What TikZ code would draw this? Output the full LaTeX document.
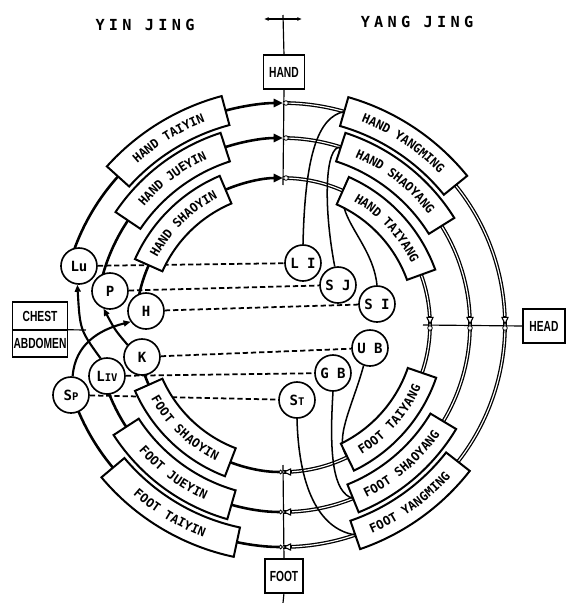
\documentclass[tikz,border=0pt]{standalone}
\usepackage{fontspec}
\setmainfont{Liberation Sans}
\newfontfamily\leroy{DejaVu Sans Mono}
\newfontfamily\spaced[LetterSpace=28]{DejaVu Sans Mono}
\newfontfamily\narrow[FakeStretch=0.7]{Liberation Sans}
\usetikzlibrary{arrows.meta,decorations.text,positioning,backgrounds}

\newcommand{\sml}[1]{{\fontsize{9}{9}\selectfont #1}}
% curved meridian box: radius, text start angle, text end angle, label
\newcommand{\meridian}[4]{%
  \pgfmathsetmacro\rin{#1-15}\pgfmathsetmacro\rout{#1+15}%
  \draw[merbox] (#2:\rin) arc[start angle=#2, end angle=#3, radius=\rin]
    -- (#3:\rout) arc[start angle=#3, end angle=#2, radius=\rout] -- cycle;
  \path[decorate, decoration={text along path, text align=center, raise=-3.8pt,
      text={|\leroy\bfseries\fontsize{10.5}{12}\selectfont|#4}}]
    (#2:#1) arc[start angle=#2, end angle=#3, radius=#1];
}

\begin{document}
\begin{tikzpicture}[x=0.03cm, y=0.03cm,
  yin/.style={line width=2.2pt},
  yang/.style={double, line width=1.1pt, double distance=1pt},
  branch/.style={line width=1.3pt},
  cross/.style={line width=1.8pt, -{Triangle[length=6pt,width=5pt]}},
  link/.style={line width=1.5pt, dash pattern=on 4.5pt off 2.5pt},
  axis/.style={line width=1pt},
  hollow/.style={line width=0.9pt, -{Triangle[fill=white,length=7pt,width=6.5pt]}},
  junc/.style={line width=0.7pt, fill=white},
  merbox/.style={draw, line width=1.7pt, fill=white},
  organ/.style={circle, draw, line width=1.4pt, fill=white, minimum size=1.08cm,
                inner sep=0pt, font=\leroy\bfseries\fontsize{12}{12}\selectfont},
  part/.style={rectangle, draw, line width=1.3pt, fill=white, minimum height=1.02cm,
               inner sep=0pt, outer sep=0pt, font=\narrow\bfseries\fontsize{12.5}{12.5}\selectfont},
  title/.style={font=\spaced\bfseries\fontsize{13}{13}\selectfont}
]
\useasboundingbox (-283,-278) rectangle (285,325);

% ---- titles ----
\node[title] (yin) at (-138,300) {YIN JING};
\node[title] (yang) at (134,303) {YANG JING};

% ---- body parts ----
\node[part, minimum width=1.23cm] (hand) at (1,253) {HAND};
\node[part, minimum width=1.26cm] (head) at (261,-1) {HEAD};
\node[part, minimum width=1.14cm] (foot) at (1,-251) {FOOT};
\node[part, minimum width=1.65cm, minimum height=0.825cm] (chest) at (-243,9) {CHEST};
\node[part, minimum width=1.65cm, minimum height=0.825cm, below=0pt of chest] (abdomen) {ABDOMEN};

\coordinate (handtop) at (0,310);
\coordinate (arrM) at (0,306);
\coordinate (arrL) at (-19,306);
\coordinate (arrR) at (19,306);
\coordinate (handend) at (0,140);
\coordinate (footend) at (0,-140);
\coordinate (footbot) at (0,-278);
\coordinate (headend) at (140,0);
\coordinate (trunkend) at (-197,-5);

% ---- organs ----
\node[organ] (Lu) at (-204,59) {Lu};
\node[organ] (P) at (-173,34) {P};
\node[organ] (H) at (-137,14) {H};
\node[organ] (K) at (-141,-32) {K};
\node[organ] (Liv) at (-176,-51) {L\sml{IV}};
\node[organ] (Sp) at (-212,-70) {S\sml{P}};
\node[organ] (LI) at (20,62) {L I};
\node[organ] (SJ) at (55,40) {S J};
\node[organ] (SI) at (94,21) {S I};
\node[organ] (UB) at (87,-23) {U B};
\node[organ] (GB) at (50,-48) {G B};
\node[organ] (St) at (14,-75) {S\sml{T}};

% ---- meridians ----
\meridian{222}{138}{105}{HAND TAIYIN}
\meridian{187}{146}{108}{HAND JUEYIN}
\meridian{147}{156}{113}{HAND SHAOYIN}
\meridian{222}{74}{39}{HAND YANGMING}
\meridian{187}{72}{32}{HAND SHAOYANG}
\meridian{147}{66}{20}{HAND TAIYANG}
\meridian{147}{204}{249}{FOOT SHAOYIN}
\meridian{187}{213}{254}{FOOT JUEYIN}
\meridian{222}{220}{258}{FOOT TAIYIN}
\meridian{147}{-64}{-19}{FOOT TAIYANG}
\meridian{187}{-68}{-31}{FOOT SHAOYANG}
\meridian{222}{-71}{-38}{FOOT YANGMING}

% hollow tips and junctions
\foreach \r in {147,187,222} {
  \draw[hollow] (\r,9) -- (\r,0);
  \draw[hollow] (9,-\r) -- (0,-\r);
  \draw[junc] (3,\r) circle[radius=2.3];
  \draw[junc] (\r,-3) circle[radius=2.3];
}

\begin{scope}[on background layer]
% axes
\draw[axis] (handtop) -- (hand.north);
\draw[axis] (hand.south) -- (handend);
\draw[axis, -{Latex[length=4pt,width=3.5pt]}] (arrM) -- (arrL);
\draw[axis, -{Latex[length=4pt,width=3.5pt]}] (arrM) -- (arrR);
\draw[axis] (footend) -- (foot.north);
\draw[axis] (foot.south) -- (footbot);
\draw[axis] (headend) -- (head.west);
\draw[axis] (chest.south east) -- (trunkend);

% yin rings
\foreach \r/\a in {222/105, 187/108, 147/113}
  \draw[yin, -{Triangle[length=8pt,width=7pt]}] (\a:\r) arc[start angle=\a, end angle=90, radius=\r];
\foreach \r/\a/\b in {222/138/164, 187/146/169, 147/156/174}
  \draw[yin] (\a:\r) arc[start angle=\a, end angle=\b, radius=\r];
\foreach \r/\a in {222/258, 187/254, 147/249}
  \draw[yin, {Circle[open,length=4pt,width=4pt,line width=0.8pt]}-] (270:\r) arc[start angle=270, end angle=\a, radius=\r];
\foreach \r/\a/\b in {222/220/198, 187/213/196, 147/204/193}
  \draw[yin] (\a:\r) arc[start angle=\a, end angle=\b, radius=\r];

% yang rings
\foreach \r/\a in {222/74, 187/72, 147/66}
  \draw[yang] (90:\r) arc[start angle=90, end angle=\a, radius=\r];
\foreach \r/\a in {222/39, 187/32, 147/20}
  \draw[yang] (\a:\r) arc[start angle=\a, end angle=0, radius=\r];
\foreach \r/\a in {222/-38, 187/-31, 147/-19}
  \draw[yang] (0:\r) arc[start angle=0, end angle=\a, radius=\r];
\foreach \r/\a in {222/-71, 187/-68, 147/-64}
  \draw[yang] (\a:\r) arc[start angle=\a, end angle=-90, radius=\r];

% crossings in the chest
\draw[cross] (Liv.110) .. controls (-203,-5) .. (Lu.265);
\draw[cross] (K.140) .. controls (-168,-5) .. (P.250);
\draw[cross] (Sp.85) .. controls (-208,-20) and (-185,-5) .. (H.215);

% yang branches
\draw[branch] (LI.north) .. controls (22,170) and (35,208) .. (74:222);
\draw[branch] (SJ.100) .. controls (40,120) and (42,180) .. (72:187);
\draw[branch] (SI.north) .. controls (90,80) and (55,105) .. (66:147);
\draw[branch] (UB.250) .. controls (70,-80) and (50,-115) .. (-64:147);
\draw[branch] (GB.south) .. controls (46,-130) and (50,-168) .. (-68:187);
\draw[branch] (St.south) .. controls (16,-170) and (40,-205) .. (-71:222);

% paired organs
\foreach \a/\b in {Lu/LI, P/SJ, H/SI, K/UB, Liv/GB, Sp/St}
  \draw[link] (\a) -- (\b);
\end{scope}
\end{tikzpicture}
\end{document}
